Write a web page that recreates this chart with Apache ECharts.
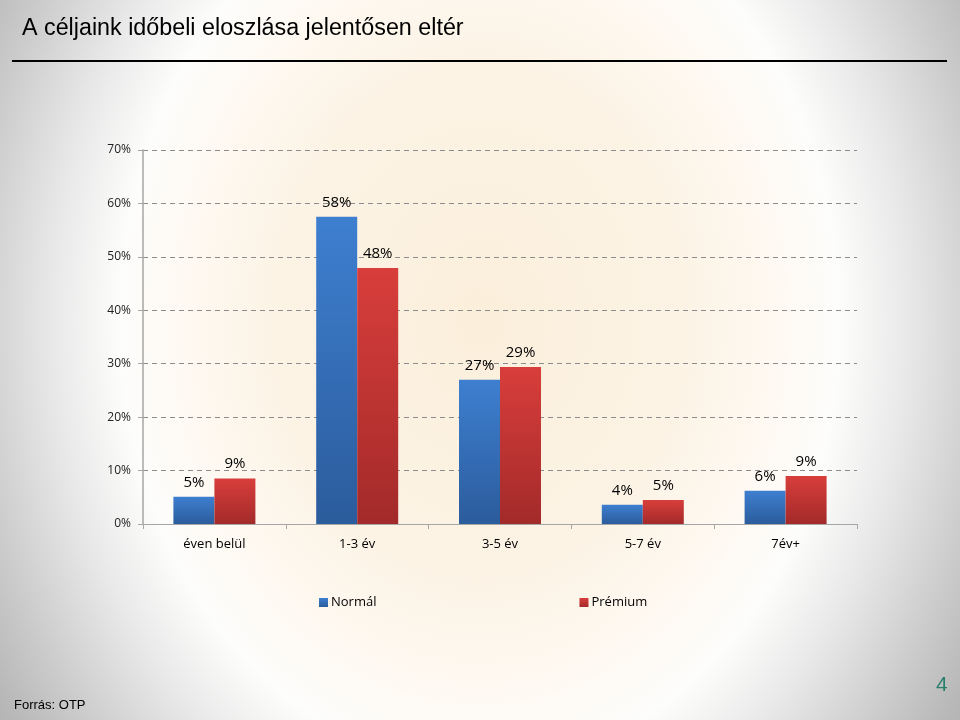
<!DOCTYPE html>
<html>
<head>
<meta charset="utf-8">
<script src="https://cdn.jsdelivr.net/npm/echarts@6/dist/echarts.min.js"></script>
<style>
html,body{margin:0;padding:0;width:960px;height:720px;overflow:hidden;}
#chart{width:960px;height:720px;
  background: radial-gradient(ellipse 580px 720px at 480px 320px,
    #fbefdb 0%, #fcf3e5 35%, #fef9f2 52%, #fdfdfc 62%, #e8e8e8 74%, #cbcbcb 88%, #b7b7b7 98%, #a8a8a8 112%);}
</style>
</head>
<body>
<div id="chart"></div>
<script>
const titleText = 'A céljaink időbeli eloszlása jelentősen eltér';
const categories = ['éven belül', '1-3 év', '3-5 év', '5-7 év', '7év+'];
const seriesNames = ['Normál', 'Prémium'];
const normal = [5.1, 57.5, 27.0, 3.6, 6.2];
const premium = [8.5, 47.9, 29.4, 4.5, 9.0];
const yTicks = [0, 10, 20, 30, 40, 50, 60, 70];
const sourceText = 'Forrás: OTP';
const pageNum = '4';

const chart = echarts.init(document.getElementById('chart'));
const labelFont = '"Open Sans", "Noto Sans", sans-serif';

function grad(top, bottom) {
  return new echarts.graphic.LinearGradient(0, 0, 0, 1, [
    {offset: 0, color: top}, {offset: 1, color: bottom}
  ]);
}

chart.setOption({
  backgroundColor: 'transparent',
  animation: false,
  title: {
    text: titleText,
    left: 17, top: 12,
    textStyle: {fontFamily: '"Liberation Sans", Arial, sans-serif', fontSize: 23.3, fontWeight: 'normal', color: '#000'}
  },
  graphic: [
    {type: 'line', shape: {x1: 12, y1: 61, x2: 947, y2: 61}, style: {stroke: '#000', lineWidth: 2}},
    {type: 'text', left: 14, top: 699, style: {text: sourceText, font: '13px "Liberation Sans", Arial, sans-serif', fill: '#000'}},
    {type: 'text', left: 936, top: 675, style: {text: pageNum, font: '21px "Liberation Sans", Arial, sans-serif', fill: '#2a7f6c'}}
  ],
  legend: {
    data: seriesNames,
    left: 314, top: 591,
    itemWidth: 9, itemHeight: 9, itemGap: 203,
    icon: 'rect',
    textStyle: {fontFamily: labelFont, fontSize: 13, color: '#000', padding: [0, 0, 0, -2]}
  },
  grid: {left: 143, right: 103, top: 150, bottom: 196},
  xAxis: {
    type: 'category',
    data: categories,
    axisLine: {lineStyle: {color: '#a6a6a6', width: 1}},
    axisTick: {show: true, length: 5, lineStyle: {color: '#a6a6a6'}},
    axisLabel: {fontFamily: labelFont, fontSize: 13, color: '#000', margin: 14}
  },
  yAxis: {
    type: 'value',
    min: yTicks[0], max: yTicks[yTicks.length - 1], interval: 10,
    axisLine: {show: true, lineStyle: {color: '#a6a6a6', width: 1.5}},
    axisTick: {show: true, length: 5, lineStyle: {color: '#a6a6a6'}},
    axisLabel: {formatter: '{value}%', fontFamily: labelFont, fontSize: 12, color: '#222', margin: 12},
    splitLine: {lineStyle: {color: '#8c8c8c', type: [5, 4], width: 1}}
  },
  series: [
    {
      name: seriesNames[0], type: 'bar', data: normal,
      barWidth: 41, barGap: '0%',
      itemStyle: {color: grad('#3e7fd0', '#2b5c9c')},
      label: {show: true, position: 'top', distance: 7, formatter: p => Math.round(p.value) + '%',
        fontFamily: labelFont, fontSize: 15, color: '#000'}
    },
    {
      name: seriesNames[1], type: 'bar', data: premium,
      barWidth: 41, barGap: '0%',
      itemStyle: {color: grad('#d83e3b', '#a32a2a')},
      label: {show: true, position: 'top', distance: 7, formatter: p => Math.round(p.value) + '%',
        fontFamily: labelFont, fontSize: 15, color: '#000'}
    }
  ]
});
</script>
</body>
</html>
